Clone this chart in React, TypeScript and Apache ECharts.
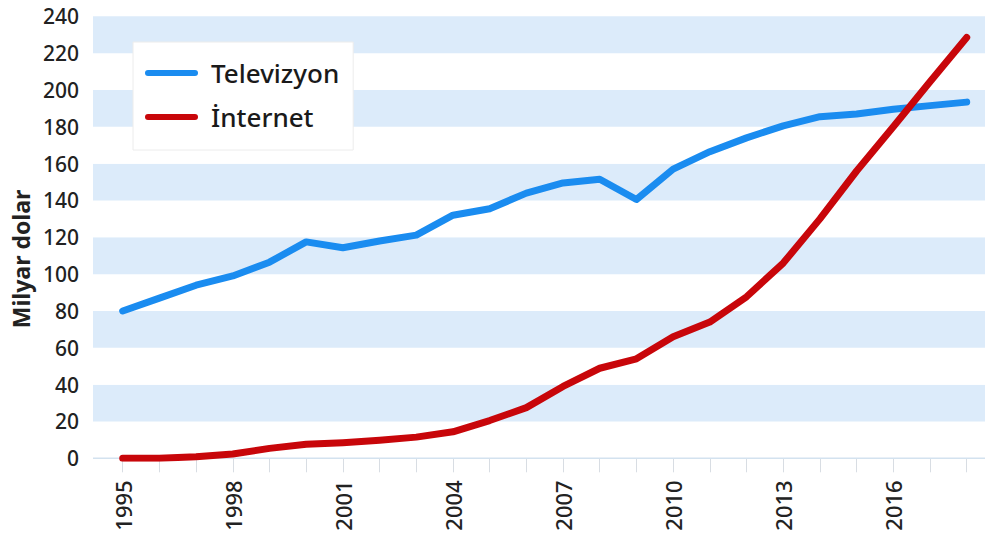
import React, { useEffect, useRef } from "react";
import * as echarts from "echarts";

const years: string[] = [
  "1995", "1996", "1997", "1998", "1999", "2000", "2001", "2002", "2003", "2004", "2005", "2006",
  "2007", "2008", "2009", "2010", "2011", "2012", "2013", "2014", "2015", "2016", "2017", "2018",
];
const televizyon: number[] = [
  80, 87, 94, 99, 106.5, 117.5, 114.3, 118, 121.2, 132, 135.5, 144,
  149.5, 151.5, 140.5, 157, 166.5, 174, 180.5, 185.5, 187, 189.5, 191.5, 193.4,
];
const internet: number[] = [
  0, 0, 0.8, 2.3, 5.4, 7.6, 8.5, 9.8, 11.5, 14.4, 20.5, 27.5,
  39, 48.9, 54, 66, 74, 87.7, 106, 130, 156, 180, 204.5, 228.5,
];
const seriesNames: string[] = ["Televizyon", "İnternet"];
const yAxisName = "Milyar dolar";

const FONT = "'Noto Sans', 'DejaVu Sans', sans-serif";

export default function App() {
  const ref = useRef<HTMLDivElement>(null);
  useEffect(() => {
    if (!ref.current) return;
    const chart = echarts.init(ref.current, null, { renderer: "svg" });
    const top = 16.3;
    const bottom = 543 - 458.3;
    chart.setOption({
      animation: false,
      backgroundColor: "#ffffff",
      grid: [
        { left: 93, right: 0, top, bottom },
        { left: 122.7, right: 18.3, top, bottom },
      ],
      xAxis: [
        { gridIndex: 0, type: "value", min: 0, max: 1, show: false },
        {
          gridIndex: 1,
          type: "category",
          data: years,
          boundaryGap: false,
          axisLine: { show: false },
          axisTick: {
            show: true,
            interval: 0,
            length: 14,
            lineStyle: { color: "#d8dde3", width: 1 },
          },
          axisLabel: {
            interval: 2,
            rotate: 90,
            margin: 22,
            fontFamily: FONT,
            fontSize: 22,
            fontWeight: 500,
            color: "#222222",
          },
          splitLine: { show: false },
        },
      ],
      yAxis: [
        {
          gridIndex: 0,
          type: "value",
          min: 0,
          max: 240,
          interval: 20,
          axisLine: { show: false },
          axisTick: { show: false },
          splitLine: { show: false },
          splitArea: {
            show: true,
            areaStyle: { color: ["#ffffff", "#dcebfa"] },
          },
          axisLabel: {
            margin: 14,
            fontFamily: FONT,
            fontSize: 21,
            fontWeight: 500,
            color: "#222222",
          },
        },
        {
          gridIndex: 1,
          type: "value",
          min: 0,
          max: 240,
          interval: 20,
          show: false,
        },
      ],
      graphic: [
        {
          type: "line",
          shape: { x1: 93, y1: 458.3, x2: 985, y2: 458.3 },
          style: { stroke: "#d3e2ef", lineWidth: 1.5 },
          z: 1,
        },
        {
          type: "text",
          x: 21,
          y: 259,
          rotation: Math.PI / 2,
          style: {
            text: yAxisName,
            fontFamily: FONT,
            fontSize: 23,
            fontWeight: "bold",
            fill: "#222222",
            align: "center",
            verticalAlign: "middle",
          },
        },
      ],
      legend: {
        orient: "vertical",
        left: 133,
        top: 42,
        backgroundColor: "#ffffff",
        borderColor: "#ececec",
        borderWidth: 1,
        padding: [18, 14, 20, 12],
        itemGap: 18,
        itemWidth: 53,
        itemHeight: 6,
        icon: "path://M3 0H50A3 3 0 0 1 50 6H3A3 3 0 0 1 3 0Z",
        textStyle: {
          fontFamily: FONT,
          fontSize: 26,
          fontWeight: 500,
          color: "#1a1a1a",
          lineHeight: 26,
          padding: [0, 0, 0, 8],
        },
        data: seriesNames,
      },
      series: [
        {
          name: seriesNames[0],
          type: "line",
          xAxisIndex: 1,
          yAxisIndex: 1,
          data: televizyon,
          showSymbol: false,
          symbol: "none",
          lineStyle: { color: "#1a8cf0", width: 7, cap: "round", join: "round" },
          itemStyle: { color: "#1a8cf0" },
          z: 3,
        },
        {
          name: seriesNames[1],
          type: "line",
          xAxisIndex: 1,
          yAxisIndex: 1,
          data: internet,
          showSymbol: false,
          symbol: "none",
          lineStyle: { color: "#c8060a", width: 7, cap: "round", join: "round" },
          itemStyle: { color: "#c8060a" },
          z: 4,
        },
      ],
    });
    return () => chart.dispose();
  }, []);
  return (
    <div
      ref={ref}
      style={{ position: "fixed", left: 0, top: 0, width: 985, height: 543 }}
    />
  );
}
